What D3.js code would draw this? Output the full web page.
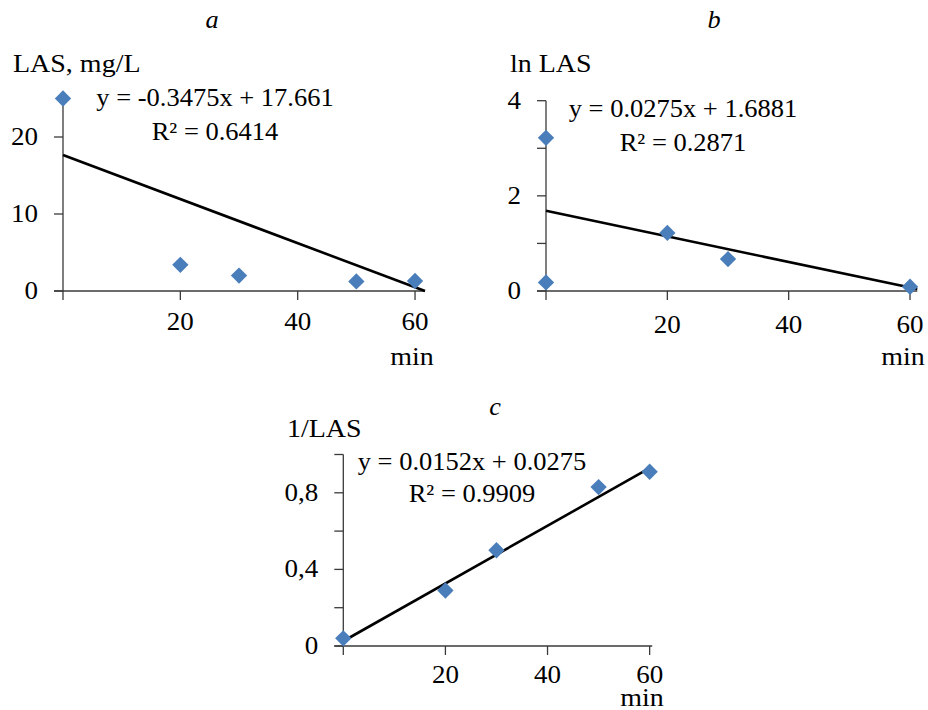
<!DOCTYPE html>
<html>
<head>
<meta charset="utf-8">
<script src="https://cdn.jsdelivr.net/npm/d3@7"></script>
<style>
  body { margin: 0; background: #fff; }
  svg text { font-family: "Liberation Serif", "DejaVu Serif", serif; }
</style>
</head>
<body>
<svg id="chart" width="928" height="710"></svg>
<script>
// data
const timeA = [0, 20, 30, 50, 60];
const lasA = [25, 3.4, 2.0, 1.25, 1.3];
const trendA = [[0, 17.661], [61.7, 0]];

const timeB = [0, 0, 20, 30, 60];
const lnLasB = [3.22, 0.18, 1.22, 0.67, 0.09];
const trendB = [[0, 1.688], [61.2, 0.04]];

const timeC = [0, 20, 30, 50, 60];
const invLasC = [0.04, 0.29, 0.5, 0.83, 0.91];
const trendC = [[0.3, 0.03], [60.4, 0.935]];

const xTicks = [20, 40, 60];
const yTicksA = [0, 10, 20];
const yTicksB = [0, 1, 2, 3, 4];
const yLabelsB = [0, 2, 4];
const yTicksC = [0, 0.2, 0.4, 0.6, 0.8, 1];
const yLabelsC = [0, 0.4, 0.8];

const panels = [
  {
    letter: 'a', yTitle: 'LAS, mg/L', eq: 'y = -0.3475x + 17.661', r2: 'R² = 0.6414',
    times: timeA, vals: lasA, trend: trendA,
    xDom: [0, 61.7], xRange: [63, 425], yDom: [0, 25], yRange: [291, 98.5],
    yTicks: yTicksA, yLabels: yTicksA, fmt: d => d,
    letterPos: [212, 28], titlePos: [13, 72], eqPos: [215, 106, 140], minPos: [412, 365], xLabY: 330
  },
  {
    letter: 'b', yTitle: 'ln LAS', eq: 'y = 0.0275x + 1.6881', r2: 'R² = 0.2871',
    times: timeB, vals: lnLasB, trend: trendB,
    xDom: [0, 61.2], xRange: [546, 917.3], yDom: [0, 4], yRange: [291, 100.7],
    yTicks: yTicksB, yLabels: yLabelsB, fmt: d => d,
    letterPos: [714, 28], titlePos: [510, 72], eqPos: [683, 117, 151], minPos: [903, 365], xLabY: 333
  },
  {
    letter: 'c', yTitle: '1/LAS', eq: 'y = 0.0152x + 0.0275', r2: 'R² = 0.9909',
    times: timeC, vals: invLasC, trend: trendC,
    xDom: [0, 60.5], xRange: [343.3, 652.2], yDom: [0, 1], yRange: [646, 454.5],
    yTicks: yTicksC, yLabels: yLabelsC, fmt: d => String(d).replace('.', ','),
    letterPos: [495, 415], titlePos: [287, 437], eqPos: [472, 470, 502], minPos: [642, 706], xLabY: 683
  }
];

const svg = d3.select('#chart');
const fs = 25;
const axisColor = '#3a3a3a';
const diamond = d3.symbol().type(d3.symbolDiamond2).size(170);

// text with a slight horizontal stretch, like the source figure
function label(g, txt, x, y, anchor, sx, extra) {
  const t = g.append('text')
    .attr('transform', `translate(${x},${y}) scale(${sx},1)`)
    .attr('text-anchor', anchor)
    .style('font-size', fs + 'px')
    .text(txt);
  if (extra) extra(t);
  return t;
}

panels.forEach(p => {
  const x = d3.scaleLinear().domain(p.xDom).range(p.xRange);
  const y = d3.scaleLinear().domain(p.yDom).range(p.yRange);
  const g = svg.append('g');

  // axes lines
  g.append('line')
    .attr('x1', x(0)).attr('x2', x(0))
    .attr('y1', y(p.yDom[1])).attr('y2', y(0) + 9)
    .attr('stroke', axisColor).attr('stroke-width', 1.3);
  g.append('line')
    .attr('x1', x(0) - 9).attr('x2', x(p.xDom[1]))
    .attr('y1', y(0)).attr('y2', y(0))
    .attr('stroke', axisColor).attr('stroke-width', 1.3);

  // y ticks
  g.selectAll('.yt').data(p.yTicks).join('line')
    .attr('x1', x(0) - 9).attr('x2', x(0))
    .attr('y1', d => y(d)).attr('y2', d => y(d))
    .attr('stroke', axisColor).attr('stroke-width', 1.3);
  p.yLabels.forEach(d => label(g, p.fmt(d), x(0) - 25, y(d) + 8, 'end', 1.08));

  // x ticks
  g.selectAll('.xt').data(xTicks).join('line')
    .attr('x1', d => x(d)).attr('x2', d => x(d))
    .attr('y1', y(0)).attr('y2', y(0) + 9)
    .attr('stroke', axisColor).attr('stroke-width', 1.3);
  xTicks.forEach(d => label(g, d, x(d), p.xLabY, 'middle', 1.08));

  // trend line
  g.append('path')
    .datum(p.trend)
    .attr('d', d3.line().x(d => x(d[0])).y(d => y(d[1])))
    .attr('stroke', '#000').attr('stroke-width', 2.6).attr('fill', 'none');

  // points
  g.selectAll('.pt').data(d3.zip(p.times, p.vals)).join('path')
    .attr('d', diamond)
    .attr('transform', d => `translate(${x(d[0])},${y(d[1])})`)
    .attr('fill', '#4a7ebb');

  // texts
  label(g, p.letter, p.letterPos[0], p.letterPos[1], 'middle', 1.05, t => t.style('font-style', 'italic'));
  label(g, p.yTitle, p.titlePos[0], p.titlePos[1], 'start', 1.12);
  label(g, p.eq, p.eqPos[0], p.eqPos[1], 'middle', 1.06);
  label(g, p.r2, p.eqPos[0], p.eqPos[2], 'middle', 1.06);
  label(g, 'min', p.minPos[0], p.minPos[1], 'middle', 1.12);
});
</script>
</body>
</html>
